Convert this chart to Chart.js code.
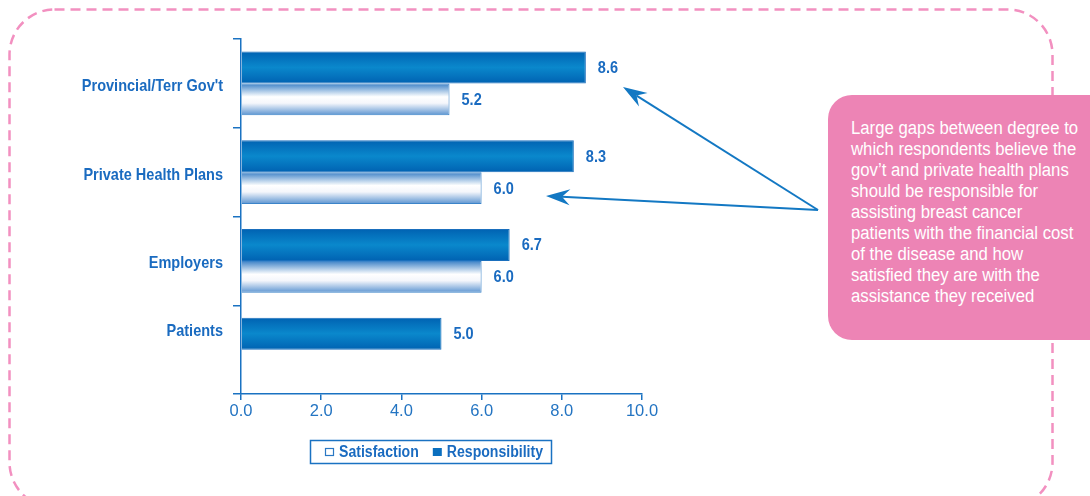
<!DOCTYPE html>
<html>
<head>
<meta charset="utf-8">
<script src="https://cdn.jsdelivr.net/npm/chart.js@4"></script>
<style>
  html, body { margin: 0; padding: 0; background: #fff; overflow: hidden; }
  #wrap { position: relative; width: 1090px; height: 496px; }
  #callout {
    position: absolute; left: 828px; top: 95px; width: 290px; height: 245px;
    background: #ed84b5; border-radius: 24px; box-sizing: border-box;
    padding: 23px 0 0 23px; color: #fff;
    font-family: "Liberation Sans", Arial, sans-serif;
    font-size: 18px; line-height: 21px;
  }
  #callout div { white-space: nowrap; transform: scaleX(0.93); transform-origin: 0 50%; }
</style>
</head>
<body>
<div id="wrap">
  <canvas id="c" width="1090" height="496"></canvas>
  <div id="callout"></div>
</div>
<script>
const categories = ["Provincial/Terr Gov't", "Private Health Plans", "Employers", "Patients"];
const responsibility = [8.6, 8.3, 6.7, 5.0];
const satisfaction = [5.2, 6.0, 6.0, null];
const xTicks = [0, 2, 4, 6, 8, 10];
const seriesNames = ["Responsibility", "Satisfaction"];
const legendOrder = ["Satisfaction", "Responsibility"];
const calloutLines = [
  "Large gaps between degree to",
  "which respondents believe the",
  "gov\u2019t and private health plans",
  "should be responsible for",
  "assisting breast cancer",
  "patients with the financial cost",
  "of the disease and how",
  "satisfied they are with the",
  "assistance they received"
];

document.getElementById('callout').innerHTML = calloutLines.map(s => '<div>' + s.replace(/&/g,'&amp;') + '</div>').join('');

const FONT = '"Liberation Sans", Arial, sans-serif';
const BLUE = '#1a72c2';
const TEXT_BLUE = '#1a6bc0';
const SX = 0.88;
const CAT_PCT = 0.72;

function narrowText(c, text, x, y, align) {
  c.save();
  c.translate(x, y);
  c.scale(SX, 1);
  c.textAlign = align;
  c.fillText(text, 0, 0);
  c.restore();
}

function barGradient(ctx, kind) {
  const chart = ctx.chart;
  const ys = chart.scales && chart.scales.y;
  if (!ys || ctx.type !== 'data' || ys.height == null || !isFinite(ys.height)) return kind === 0 ? '#0277c2' : '#dfe9f5';
  const n = chart.data.labels.length;
  const center = ys.getPixelForValue(ctx.dataIndex);
  const thick = (ys.height / n) * CAT_PCT / 2;
  const top = kind === 0 ? center - thick : center;
  const g = chart.ctx.createLinearGradient(0, top, 0, top + thick);
  if (kind === 0) {
    g.addColorStop(0, '#0062b2');
    g.addColorStop(0.5, '#0a88cc');
    g.addColorStop(1, '#0062b2');
  } else {
    g.addColorStop(0, '#3b80c6');
    g.addColorStop(0.42, '#ffffff');
    g.addColorStop(0.62, '#f4f6fb');
    g.addColorStop(1, '#5a93d0');
  }
  return g;
}

const decorPlugin = {
  id: 'decor',
  beforeDraw(chart) {
    const c = chart.ctx;
    c.save();
    c.strokeStyle = '#f290c0';
    c.lineWidth = 2.5;
    c.setLineDash([10, 6]);
    c.beginPath();
    c.roundRect(9.5, 9.5, 1043, 498, 45);
    c.stroke();
    c.restore();
  },
  afterDraw(chart) {
    const c = chart.ctx;
    const ys = chart.scales.y;
    c.save();
    c.font = 'bold 16.5px ' + FONT;
    c.fillStyle = TEXT_BLUE;
    c.textBaseline = 'middle';
    categories.forEach((lab, i) => {
      let top = Infinity, bot = -Infinity, count = 0;
      chart.data.datasets.forEach((ds, di) => {
        if (ds.data[i] == null) return;
        const el = chart.getDatasetMeta(di).data[i];
        top = Math.min(top, el.y - el.height / 2);
        bot = Math.max(bot, el.y + el.height / 2);
        count++;
      });
      const y = isFinite(top) ? (top + bot) / 2 : ys.getPixelForValue(i);
      narrowText(c, lab, 223, y + (count > 1 ? 3 : -2), 'right');
    });
    chart.data.datasets.forEach((ds, di) => {
      const meta = chart.getDatasetMeta(di);
      ds.data.forEach((v, i) => {
        if (v == null) return;
        const el = meta.data[i];
        narrowText(c, v.toFixed(1), el.x + 12, el.y + 1, 'left');
      });
    });
    c.restore();

    const arrow = (x0, y0, x1, y1) => {
      c.save();
      c.strokeStyle = '#1378c3';
      c.fillStyle = '#1378c3';
      c.lineWidth = 2;
      const a = Math.atan2(y1 - y0, x1 - x0);
      const L = 24, W = 8, N = 16;
      const bx = x1 - N * Math.cos(a), by = y1 - N * Math.sin(a);
      c.beginPath();
      c.moveTo(x0, y0);
      c.lineTo(bx, by);
      c.stroke();
      c.beginPath();
      c.moveTo(x1, y1);
      c.lineTo(x1 - L * Math.cos(a) + W * Math.sin(a), y1 - L * Math.sin(a) - W * Math.cos(a));
      c.lineTo(bx, by);
      c.lineTo(x1 - L * Math.cos(a) - W * Math.sin(a), y1 - L * Math.sin(a) + W * Math.cos(a));
      c.closePath();
      c.fill();
      c.restore();
    };
    arrow(818, 210, 623, 87);
    arrow(818, 210, 546, 196);

    c.save();
    c.strokeStyle = BLUE;
    c.lineWidth = 1.5;
    c.strokeRect(310.5, 440.5, 241, 23);
    c.font = 'bold 16px ' + FONT;
    c.textBaseline = 'middle';
    let x = 325;
    legendOrder.forEach(name => {
      const di = seriesNames.indexOf(name);
      if (di === 1) {
        c.fillStyle = '#ffffff';
        c.fillRect(x + 0.5, 448.5, 8, 7);
        c.strokeStyle = '#2a78c4';
        c.lineWidth = 1.2;
        c.strokeRect(x + 0.5, 448.5, 8, 7);
      } else {
        c.fillStyle = '#0a6fbf';
        c.fillRect(x, 448, 9, 8);
      }
      c.fillStyle = TEXT_BLUE;
      narrowText(c, name, x + 14, 452.5, 'left');
      x += 14 + c.measureText(name).width * SX + 14;
    });
    c.restore();
  }
};

new Chart(document.getElementById('c'), {
  type: 'bar',
  data: {
    labels: categories,
    datasets: [
      {
        label: seriesNames[0],
        data: responsibility,
        backgroundColor: ctx => barGradient(ctx, 0),
        borderColor: '#1a6fbd',
        borderWidth: 1,
        categoryPercentage: CAT_PCT,
        barPercentage: 1
      },
      {
        label: seriesNames[1],
        data: satisfaction,
        backgroundColor: ctx => barGradient(ctx, 1),
        borderColor: '#3b84c9',
        borderWidth: 1,
        categoryPercentage: CAT_PCT,
        barPercentage: 1
      }
    ]
  },
  options: {
    indexAxis: 'y',
    responsive: false,
    animation: false,
    events: [],
    layout: { padding: { top: 39, right: 448, left: 0, bottom: 0 } },
    plugins: { legend: { display: false }, tooltip: { enabled: false } },
    scales: {
      x: {
        type: 'linear',
        min: xTicks[0],
        max: xTicks[xTicks.length - 1],
        afterBuildTicks: s => { s.ticks = xTicks.map(v => ({ value: v })); },
        afterFit: s => { s.height = 102; },
        border: { color: BLUE, width: 1.5 },
        grid: { drawOnChartArea: false, tickLength: 6, color: BLUE, lineWidth: 1.5 },
        ticks: {
          padding: 2,
          color: '#2374c2',
          font: { family: FONT, size: 16.5 },
          callback: v => Number(v).toFixed(1)
        }
      },
      y: {
        type: 'category',
        offset: true,
        afterFit: s => { s.width = 241; },
        border: { color: BLUE, width: 1.5 },
        grid: { offset: true, drawOnChartArea: false, tickLength: 8, color: BLUE, lineWidth: 1.5 },
        ticks: { display: false }
      }
    }
  },
  plugins: [decorPlugin]
});
</script>
</body>
</html>
